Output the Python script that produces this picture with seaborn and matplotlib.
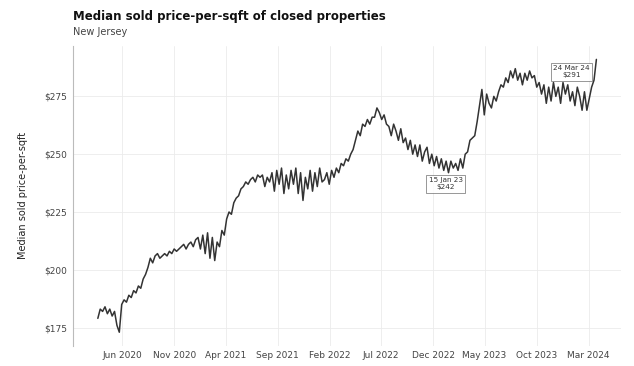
import pandas as pd
import numpy as np
import matplotlib.pyplot as plt
import matplotlib.dates as mdates
from matplotlib.ticker import FuncFormatter
import seaborn as sns

# weekly median price per sqft
values = (
    [179, 183, 182, 184] + [181, 183, 180, 182] + [176, 173, 185, 187] + [186, 189, 188, 191]
    + [190, 193, 192, 196, 198] + [201, 205, 203, 206] + [207, 205, 206, 207]
    + [206, 208, 207, 209, 208] + [209, 210, 211, 209] + [211, 212, 210, 213, 214]
    # 2021
    + [209, 215, 207, 216] + [205, 214, 204, 212] + [210, 217, 215, 222, 225]
    + [224, 229, 231, 232] + [235, 236, 238, 237] + [239, 240, 238, 241, 240]
    + [241, 236, 240, 238] + [242, 234, 243, 237] + [244, 233, 241, 235, 243]
    + [237, 244, 233, 242] + [230, 240, 235, 243] + [234, 242, 236, 244, 238]
    # 2022
    + [239, 242, 237, 243] + [240, 244, 242, 246] + [245, 248, 247, 250, 252]
    + [256, 260, 258, 263] + [262, 265, 263, 266] + [266, 270, 268, 265, 267]
    + [263, 262, 258, 263] + [260, 256, 261, 255] + [257, 252, 256, 250, 254]
    + [249, 254, 247, 251] + [253, 246, 250, 245] + [249, 244, 248, 243, 247]
    # 2023
    + [242, 247, 244, 246] + [243, 248, 244, 250] + [251, 256, 257, 258, 264]
    + [271, 278, 267, 276] + [272, 270, 275, 273] + [277, 280, 279, 283, 281]
    + [286, 283, 287, 282] + [285, 280, 285, 282] + [286, 283, 284, 279, 281]
    + [276, 280, 272, 279] + [273, 281, 275, 279] + [272, 281, 276, 280, 273]
    # 2024
    + [277, 271, 279, 275] + [269, 277, 269, 274] + [279, 282, 291]
)
dates = pd.date_range(end='2024-03-24', periods=len(values), freq='W')
df = pd.DataFrame({'date': dates, 'price': values})

tick_dates = pd.date_range('2020-06-01', '2024-03-01', freq='5MS')

sns.set_theme(style='whitegrid')
plt.rcParams['font.family'] = ['DejaVu Sans']

fig, ax = plt.subplots(figsize=(6.34, 3.66), dpi=100)
fig.subplots_adjust(left=0.115, right=0.98, top=0.875, bottom=0.055)

sns.lineplot(data=df, x='date', y='price', ax=ax, color='#333333', linewidth=1.1)

ax.set_xticks(tick_dates)
ax.xaxis.set_major_formatter(mdates.DateFormatter('%b %Y'))
ax.set_yticks([175, 200, 225, 250, 275])
ax.yaxis.set_major_formatter(FuncFormatter(lambda v, p: f'${v:.0f}'))
ax.margins(x=0.05, y=0.05)

ax.grid(True, color='#ebebeb', linewidth=0.6)
for s in ['top', 'right', 'bottom']:
    ax.spines[s].set_visible(False)
ax.spines['left'].set_color('#bbbbbb')
ax.spines['left'].set_linewidth(0.8)
ax.tick_params(axis='both', labelsize=6.5, colors='#444444', length=2, width=0.5, pad=2)
ax.tick_params(axis='x', length=0, pad=4)

ax.set_xlabel('')
ax.set_ylabel('Median sold price-per-sqft', fontsize=7, color='#222222', labelpad=12)

fig.text(0.115, 0.945, 'Median sold price-per-sqft of closed properties',
         fontsize=8.5, fontweight='bold', color='#111111')
fig.text(0.115, 0.905, 'New Jersey', fontsize=7, color='#444444')

# annotate the 2023 low and the latest value
low = df[df['date'].dt.year == 2023].nsmallest(1, 'price').iloc[0]
last = df.iloc[-1]
box = dict(boxstyle='square,pad=0.35', fc='white', ec='#555555', lw=0.5, alpha=0.85)
ax.annotate(f"{low['date']:%d %b %y}\n${low['price']:.0f}",
            xy=(low['date'], low['price']), xytext=(-2, -8), textcoords='offset points',
            ha='center', va='center', fontsize=5.2, color='#333333', bbox=box)
ax.annotate(f"{last['date']:%d %b %y}\n${last['price']:.0f}",
            xy=(last['date'], last['price']), xytext=(-18, -9), textcoords='offset points',
            ha='center', va='center', fontsize=5.2, color='#333333', bbox=box)

plt.savefig('out.png', dpi=100)
